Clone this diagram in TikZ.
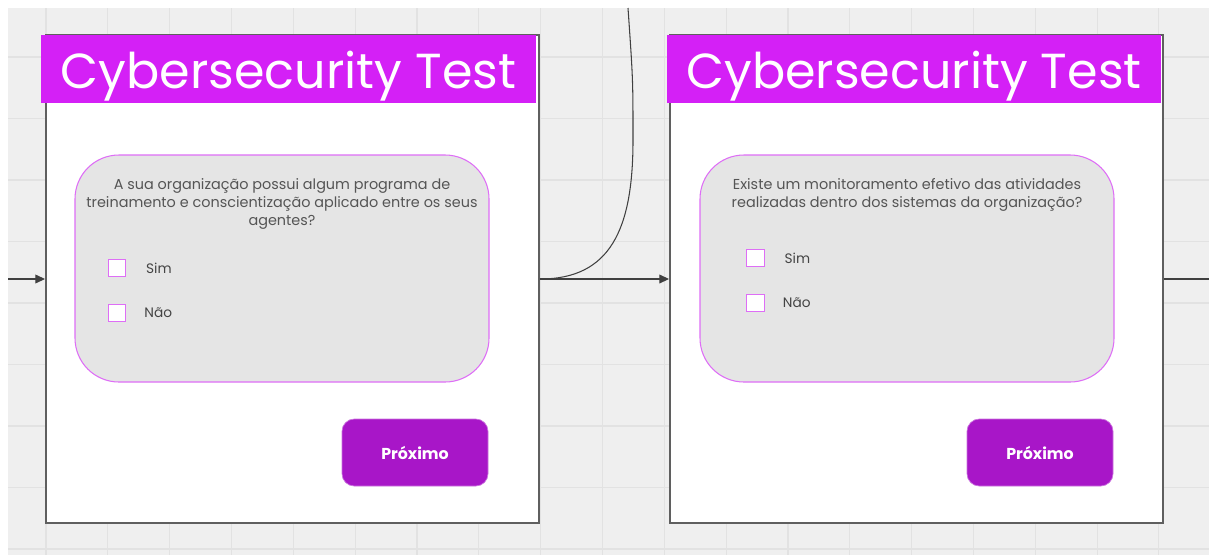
\documentclass[tikz,border=0pt]{standalone}
\usepackage{fontspec}
\setmainfont{Poppins}
\usetikzlibrary{arrows.meta, positioning, fit, calc}

\definecolor{canvasgray}{RGB}{239,239,239}
\definecolor{gridgray}{RGB}{226,226,226}
\definecolor{titlemag}{RGB}{212,32,246}
\definecolor{cardline}{RGB}{222,110,246}
\definecolor{cardfill}{RGB}{229,229,229}
\definecolor{btnpurple}{RGB}{168,22,200}
\definecolor{framegray}{RGB}{95,95,95}
\definecolor{textgray}{RGB}{85,85,85}

\begin{document}
\begin{tikzpicture}[
        x=0.02cm, y=-0.02cm,
        gridline/.style={draw=gridgray, line width=0.6pt},
        screen/.style={draw=framegray, line width=1.1pt, fill=white, inner sep=0pt},
        titlebar/.style={fill=titlemag, inner sep=0pt},
        titletext/.style={text=white, inner sep=0pt, font=\fontsize{28}{30}\selectfont},
        card/.style={draw=cardline, line width=0.6pt, fill=cardfill, rounded corners=25pt, inner sep=0pt},
        question/.style={text=textgray, align=center, inner sep=0pt, font=\fontsize{8.2}{10.2}\selectfont},
        checkbox/.style={draw=cardline, line width=0.8pt, fill=white, minimum size=10pt, inner sep=0pt},
        option/.style={text=textgray!80!black, inner sep=0pt, font=\fontsize{7.8}{9}\selectfont},
        nextbtn/.style={fill=btnpurple, draw=btnpurple!60!white, rounded corners=7pt, text=white, inner sep=0pt, font=\bfseries\fontsize{9}{10}\selectfont},
        link/.style={draw=black!75, line width=0.6pt},
        linkarrow/.style={link, -{Triangle[length=5.5pt, width=5pt]}}
    ]
        \useasboundingbox (0,0) rectangle (1209,555);
        \fill[canvasgray] (8,8) rectangle (1209,555);
        \foreach \gx in {0,...,18} {
            \draw[gridline] ({46+61.83*\gx},8) -- ({46+61.83*\gx},555);
        }
        \foreach \gy in {0,...,8} {
            \draw[gridline] (8,{57+61.5*\gy}) -- (1209,{57+61.5*\gy});
        }

        % first screen
        \node[screen, fit={(46,35) (539,523)}] (screenA) {};
        \node[titlebar, fit={(41,35) (536,103)}] (titleA) {};
        \node[titletext] (titletextA) at ([yshift=-4pt]titleA.center) {Cybersecurity Test};
        \node[card, fit={(75,155) (489,382)}] (cardA) {};
        \node[question] (questionA) at (282,204) {A sua organização possui algum programa de\\treinamento e conscientização aplicado entre os seus\\agentes?};
        \node[checkbox] (simboxA) at (117,268) {};
        \node[checkbox] (naoboxA) at (117,313) {};
        \node[option, right=11pt of simboxA] (simA) {Sim};
        \node[option, right=10pt of naoboxA] (naoA) {Não};
        \node[nextbtn, fit={(342,419) (488,486)}] (nextA) {};
        \node[text=white, inner sep=0pt, font=\bfseries\fontsize{9}{10}\selectfont] (nexttextA) at (nextA.center) {Próximo};

        % second screen
        \node[screen, fit={(670,35) (1163,523)}] (screenB) {};
        \node[titlebar, fit={(667,35) (1161,103)}] (titleB) {};
        \node[titletext] (titletextB) at ([yshift=-4pt]titleB.center) {Cybersecurity Test};
        \node[card, fit={(700,155) (1114,382)}] (cardB) {};
        \node[question] (questionB) at (907,195) {Existe um monitoramento efetivo das atividades\\realizadas dentro dos sistemas da organização?};
        \node[checkbox] (simboxB) at (755.5,258) {};
        \node[checkbox] (naoboxB) at (755.5,303) {};
        \node[option, right=11pt of simboxB] (simB) {Sim};
        \node[option, right=10pt of naoboxB] (naoB) {Não};
        \node[nextbtn, fit={(967,419) (1113,486)}] (nextB) {};
        \node[text=white, inner sep=0pt, font=\bfseries\fontsize{9}{10}\selectfont] (nexttextB) at (nextB.center) {Próximo};

        % connectors
        \coordinate (inA) at (8,279);
        \coordinate (topend) at (628,8);
        \coordinate (outB) at (1209,279);
        \draw[linkarrow] (inA) -- (screenA.west);
        \draw[linkarrow] (screenA.east) -- (screenB.west);
        \draw[link] (screenA.east) .. controls (610,279) and (633,230) .. (633,140)
            .. controls (633,80) .. (topend);
        \draw[link] (screenB.east) -- (outB);
    \end{tikzpicture}
\end{document}
